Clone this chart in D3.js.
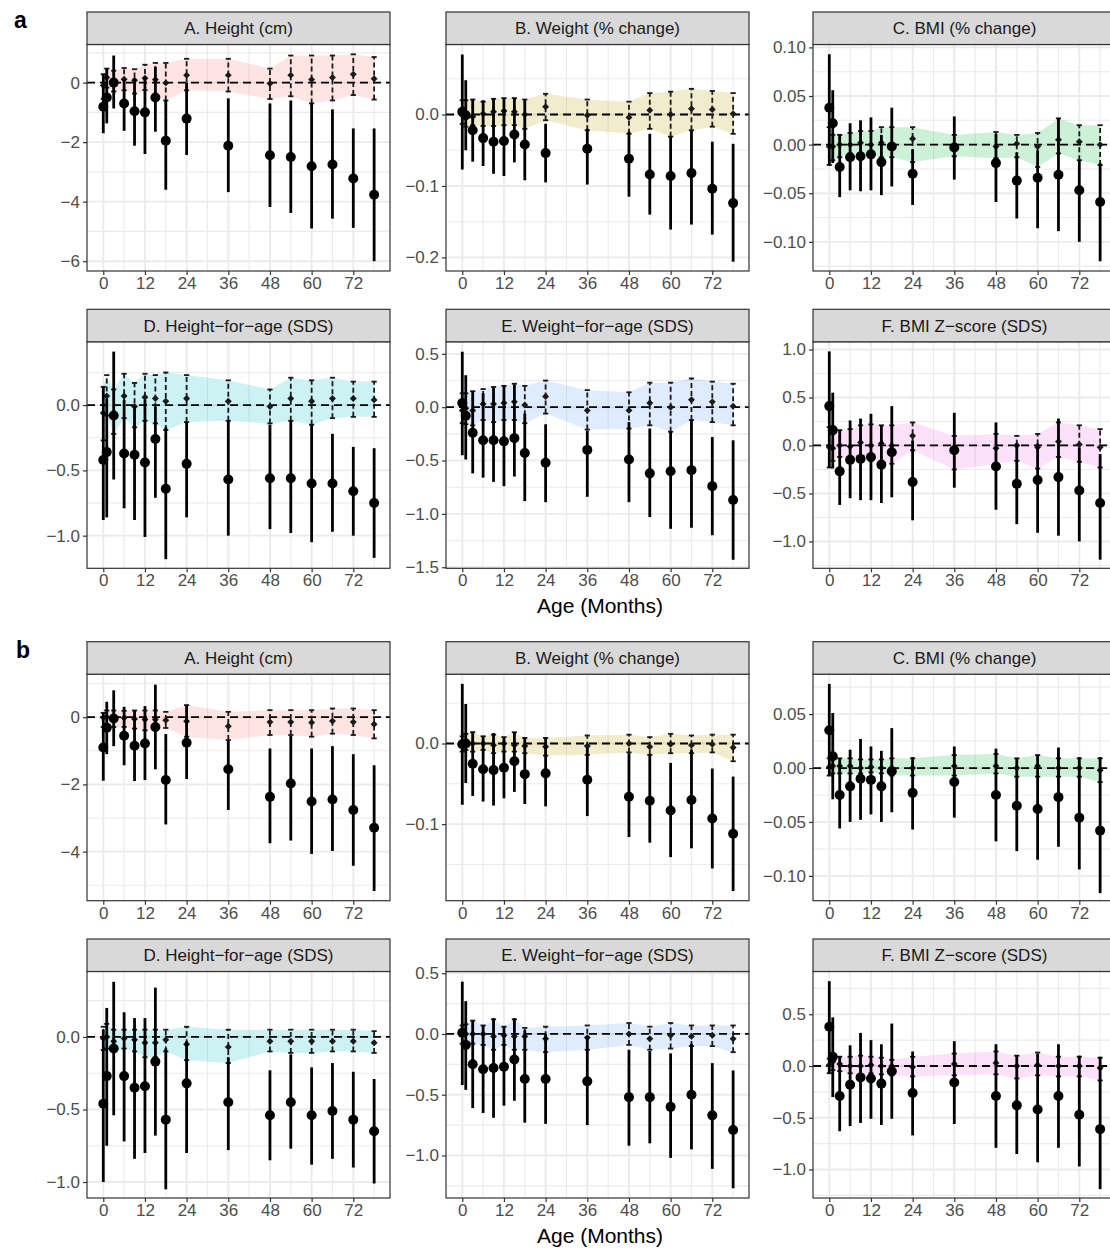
<!DOCTYPE html>
<html>
<head>
<meta charset="utf-8">
<script src="https://cdnjs.cloudflare.com/ajax/libs/d3/7.8.5/d3.min.js"></script>
<style>
  body { margin: 0; background: #fff; }
  svg { font-family: "Liberation Sans", Arial, sans-serif; }
</style>
</head>
<body>
<svg id="chart" width="1110" height="1251"></svg>
<script>
// Time points (months)
const months = [0, 1, 3, 6, 9, 12, 15, 18, 24, 36, 48, 54, 60, 66, 72, 78];

const panelTitles = ["A. Height (cm)", "B. Weight (% change)", "C. BMI (% change)",
    "D. Height\u2212for\u2212age (SDS)", "E. Weight\u2212for\u2212age (SDS)", "F. BMI Z\u2212score (SDS)"];
const ribbonColors = ["#F8766D", "#B79F00", "#00BA38", "#00BFC4", "#619CFF", "#F564E3"];
const tickFormats = ["d", ".1f", ".2f", ".1f", ".1f", ".1f"];
const xTicks = [0, 12, 24, 36, 48, 60, 72];
const xDomain = [-4.69, 82.57];

// each row: [mean, lower, upper]
// ---- group a ----
const aHeightObs = [[-0.81,-1.7,0.3],[-0.5,-1.37,0.47],[0,-0.87,0.91],[-0.7,-1.62,0.1],[-0.96,-2.12,0.12],[-1.0,-2.4,0.2],[-0.5,-1.65,0.52],[-1.95,-3.6,-0.6],[-1.21,-2.43,0.0],[-2.12,-3.68,-0.53],[-2.44,-4.18,-0.7],[-2.5,-4.38,-0.6],[-2.81,-4.9,-0.7],[-2.75,-4.57,-0.9],[-3.22,-4.88,-1.54],[-3.77,-6.0,-1.54]];
const aHeightRef = [[-0.1,-0.55,0.28],[0.17,-0.17,0.47],[0.05,-0.3,0.4],[0.11,-0.26,0.49],[0.08,-0.37,0.45],[0.15,-0.25,0.6],[0.1,-0.42,0.66],[-0.01,-0.6,0.66],[0.25,-0.26,0.8],[0.25,-0.3,0.8],[-0.03,-0.55,0.47],[0.25,-0.46,0.91],[0.1,-0.7,0.91],[0.17,-0.6,0.91],[0.28,-0.42,0.95],[0.13,-0.57,0.86]];
const aWeightObs = [[0.004,-0.077,0.084],[-0.001,-0.05,0.048],[-0.022,-0.066,0.021],[-0.033,-0.072,0.02],[-0.038,-0.083,0.022],[-0.037,-0.086,0.023],[-0.028,-0.067,0.023],[-0.042,-0.092,0.02],[-0.054,-0.095,-0.013],[-0.048,-0.098,-0.02],[-0.062,-0.115,-0.024],[-0.084,-0.14,-0.027],[-0.086,-0.161,-0.031],[-0.082,-0.154,-0.022],[-0.104,-0.168,-0.038],[-0.124,-0.206,-0.041]];
const aWeightRef = [[-0.001,-0.013,0.02],[-0.001,-0.017,0.02],[-0.003,-0.015,0.021],[0.001,-0.016,0.018],[0.004,-0.016,0.022],[0.005,-0.015,0.023],[0.004,-0.015,0.023],[0.0,-0.02,0.021],[0.011,-0.008,0.029],[-0.001,-0.022,0.021],[-0.004,-0.027,0.018],[0.006,-0.02,0.03],[0.0,-0.031,0.032],[0.008,-0.022,0.036],[0.007,-0.017,0.033],[0.001,-0.027,0.03]];
const aBmiObs = [[0.038,-0.021,0.093],[0.022,-0.019,0.056],[-0.023,-0.054,0.011],[-0.013,-0.047,0.022],[-0.012,-0.048,0.025],[-0.010,-0.047,0.028],[-0.018,-0.052,0.01],[-0.002,-0.043,0.038],[-0.03,-0.062,-0.005],[-0.003,-0.036,0.029],[-0.019,-0.059,0.011],[-0.037,-0.076,-0.008],[-0.034,-0.086,-0.006],[-0.031,-0.089,0.027],[-0.047,-0.1,-0.016],[-0.059,-0.12,-0.019]];
const aBmiRef = [[-0.002,-0.021,0.018],[-0.002,-0.016,0.01],[0.0,-0.013,0.01],[0.0,-0.009,0.012],[0.002,-0.01,0.014],[0.0,-0.011,0.014],[0.002,-0.013,0.018],[0.0,-0.013,0.018],[0.006,-0.018,0.018],[0.0,-0.012,0.01],[-0.002,-0.014,0.013],[0.001,-0.013,0.01],[-0.002,-0.023,0.012],[0.005,-0.009,0.027],[0.003,-0.016,0.02],[0.0,-0.021,0.02]];
const aHfaObs = [[-0.42,-0.88,0.14],[-0.36,-0.86,0.05],[-0.08,-0.57,0.41],[-0.37,-0.79,0.04],[-0.38,-0.88,-0.01],[-0.44,-1.01,0.04],[-0.26,-0.71,-0.01],[-0.64,-1.18,-0.17],[-0.45,-0.86,-0.13],[-0.57,-1.0,-0.12],[-0.56,-0.95,-0.15],[-0.56,-0.98,-0.12],[-0.6,-1.05,-0.15],[-0.6,-0.97,-0.22],[-0.66,-1.0,-0.32],[-0.75,-1.17,-0.33]];
const aHfaRef = [[-0.06,-0.27,0.14],[0.07,-0.08,0.23],[-0.08,-0.22,0.12],[0.07,-0.1,0.24],[-0.01,-0.17,0.17],[0.06,-0.12,0.24],[0.05,-0.14,0.23],[0.03,-0.19,0.25],[0.05,-0.13,0.23],[0.03,-0.12,0.19],[-0.01,-0.14,0.12],[0.05,-0.12,0.21],[0.03,-0.15,0.19],[0.05,-0.1,0.21],[0.05,-0.09,0.18],[0.04,-0.09,0.18]];
const aWfaObs = [[0.04,-0.45,0.52],[-0.08,-0.49,0.3],[-0.24,-0.62,0.15],[-0.31,-0.66,0.13],[-0.31,-0.7,0.18],[-0.32,-0.74,0.2],[-0.29,-0.65,0.21],[-0.43,-0.88,-0.06],[-0.52,-0.89,-0.16],[-0.4,-0.84,-0.22],[-0.49,-0.89,-0.14],[-0.62,-1.03,-0.2],[-0.6,-1.14,-0.23],[-0.59,-1.13,-0.12],[-0.74,-1.2,-0.28],[-0.87,-1.43,-0.31]];
const aWfaRef = [[-0.03,-0.15,0.13],[-0.01,-0.16,0.13],[-0.03,-0.17,0.15],[0.03,-0.12,0.17],[0.03,-0.14,0.19],[0.04,-0.12,0.2],[0.05,-0.12,0.22],[0.02,-0.15,0.2],[0.1,-0.06,0.25],[-0.03,-0.21,0.16],[-0.03,-0.2,0.14],[0.04,-0.17,0.23],[0.0,-0.23,0.23],[0.07,-0.12,0.27],[0.05,-0.14,0.24],[0.01,-0.17,0.22]];
const aBmizObs = [[0.41,-0.23,0.98],[0.16,-0.24,0.55],[-0.27,-0.62,0.16],[-0.15,-0.55,0.26],[-0.14,-0.57,0.28],[-0.12,-0.57,0.33],[-0.2,-0.6,0.21],[-0.07,-0.54,0.41],[-0.38,-0.78,0.05],[-0.05,-0.44,0.34],[-0.22,-0.67,0.24],[-0.4,-0.82,0.02],[-0.36,-0.91,0.02],[-0.33,-0.94,0.28],[-0.47,-1.0,-0.02],[-0.6,-1.19,-0.09]];
const aBmizRef = [[-0.02,-0.23,0.19],[-0.03,-0.16,0.12],[0.0,-0.12,0.16],[-0.01,-0.12,0.17],[0.03,-0.12,0.21],[0.0,-0.16,0.22],[0.02,-0.16,0.21],[0.0,-0.19,0.21],[0.1,-0.05,0.24],[-0.03,-0.25,0.1],[-0.03,-0.19,0.12],[0.0,-0.16,0.1],[-0.02,-0.24,0.12],[0.04,-0.12,0.24],[0.01,-0.17,0.21],[-0.02,-0.23,0.17]];

// ---- group b ----
const bHeightObs = [[-0.9,-1.89,0.13],[-0.31,-1.1,0.46],[-0.04,-0.86,0.8],[-0.55,-1.43,0.31],[-0.85,-1.9,0.2],[-0.78,-1.87,0.33],[-0.29,-1.55,0.97],[-1.87,-3.19,-0.5],[-0.76,-1.84,0.36],[-1.55,-2.76,-0.7],[-2.37,-3.75,-0.93],[-1.97,-3.67,-0.56],[-2.51,-4.07,-0.93],[-2.45,-3.98,-0.86],[-2.76,-4.42,-1.1],[-3.29,-5.17,-1.43]];
const bHeightRef = [[-0.01,-0.29,0.13],[0.0,-0.24,0.2],[0.0,-0.29,0.2],[-0.02,-0.29,0.19],[-0.05,-0.34,0.2],[-0.07,-0.39,0.2],[-0.07,-0.39,0.2],[-0.09,-0.32,0.16],[-0.12,-0.58,0.36],[-0.27,-0.68,0.16],[-0.14,-0.53,0.21],[-0.14,-0.53,0.21],[-0.16,-0.58,0.21],[-0.11,-0.49,0.26],[-0.14,-0.53,0.26],[-0.21,-0.63,0.21]];
const bWeightObs = [[-0.001,-0.076,0.074],[0.0,-0.049,0.049],[-0.025,-0.065,0.015],[-0.032,-0.072,0.009],[-0.033,-0.077,0.013],[-0.03,-0.068,0.007],[-0.022,-0.06,0.014],[-0.038,-0.075,0.007],[-0.037,-0.078,0.007],[-0.045,-0.09,-0.005],[-0.066,-0.116,-0.012],[-0.071,-0.123,-0.014],[-0.083,-0.141,-0.024],[-0.07,-0.13,-0.008],[-0.093,-0.155,-0.031],[-0.112,-0.183,-0.041]];
const bWeightRef = [[-0.001,-0.01,0.009],[0.0,-0.008,0.012],[0.0,-0.01,0.014],[0.0,-0.008,0.009],[-0.002,-0.012,0.011],[0.0,-0.01,0.008],[-0.002,-0.01,0.014],[-0.003,-0.012,0.007],[-0.004,-0.015,0.007],[-0.003,-0.014,0.01],[0.0,-0.011,0.011],[-0.004,-0.014,0.008],[-0.001,-0.012,0.012],[-0.002,-0.012,0.01],[-0.001,-0.011,0.011],[-0.005,-0.022,0.011]];
const bBmiObs = [[0.035,-0.007,0.078],[0.011,-0.029,0.051],[-0.025,-0.056,0.009],[-0.017,-0.05,0.017],[-0.01,-0.048,0.027],[-0.011,-0.043,0.02],[-0.017,-0.05,0.016],[-0.003,-0.041,0.037],[-0.023,-0.057,0.01],[-0.013,-0.046,0.02],[-0.025,-0.068,0.018],[-0.035,-0.077,0.009],[-0.038,-0.085,0.012],[-0.027,-0.073,0.019],[-0.046,-0.094,0.01],[-0.058,-0.116,0.01]];
const bBmiRef = [[0.001,-0.007,0.009],[0.002,-0.005,0.01],[0.002,-0.005,0.009],[0.002,-0.005,0.009],[0.0,-0.005,0.008],[0.001,-0.004,0.008],[0.0,-0.005,0.008],[0.0,-0.007,0.009],[0.0,-0.007,0.009],[0.002,-0.007,0.012],[0.002,-0.005,0.013],[0.0,-0.008,0.009],[0.002,-0.008,0.012],[0.0,-0.008,0.009],[0.0,-0.008,0.009],[-0.002,-0.013,0.009]];
const bHfaObs = [[-0.46,-1.0,0.05],[-0.27,-0.75,0.2],[-0.08,-0.54,0.38],[-0.27,-0.72,0.17],[-0.35,-0.84,0.13],[-0.34,-0.8,0.13],[-0.17,-0.68,0.34],[-0.57,-1.05,-0.08],[-0.32,-0.8,-0.03],[-0.45,-0.78,-0.14],[-0.54,-0.85,-0.23],[-0.45,-0.77,-0.12],[-0.54,-0.88,-0.21],[-0.51,-0.84,-0.18],[-0.57,-0.9,-0.24],[-0.65,-1.01,-0.29]];
const bHfaRef = [[-0.01,-0.09,0.07],[0.0,-0.08,0.09],[-0.03,-0.1,0.05],[-0.01,-0.08,0.05],[-0.02,-0.1,0.05],[-0.04,-0.14,0.05],[-0.04,-0.14,0.05],[-0.02,-0.1,0.05],[-0.05,-0.16,0.07],[-0.07,-0.18,0.05],[-0.03,-0.1,0.05],[-0.03,-0.11,0.05],[-0.03,-0.11,0.05],[-0.03,-0.1,0.05],[-0.03,-0.1,0.05],[-0.04,-0.11,0.04]];
const bWfaObs = [[0.01,-0.42,0.43],[-0.09,-0.46,0.27],[-0.25,-0.61,0.11],[-0.29,-0.65,0.07],[-0.28,-0.69,0.13],[-0.27,-0.59,0.06],[-0.21,-0.55,0.13],[-0.37,-0.73,0.03],[-0.37,-0.74,0.0],[-0.39,-0.75,-0.02],[-0.52,-0.92,-0.13],[-0.52,-0.9,-0.14],[-0.6,-1.02,-0.16],[-0.5,-0.95,-0.08],[-0.67,-1.11,-0.24],[-0.79,-1.27,-0.3]];
const bWfaRef = [[0.0,-0.08,0.07],[0.0,-0.08,0.08],[0.0,-0.08,0.11],[0.0,-0.09,0.07],[-0.02,-0.13,0.12],[-0.01,-0.09,0.06],[-0.02,-0.13,0.12],[-0.02,-0.13,0.05],[-0.04,-0.15,0.06],[-0.03,-0.13,0.07],[0.0,-0.09,0.09],[-0.04,-0.13,0.06],[-0.01,-0.12,0.09],[-0.02,-0.1,0.07],[-0.01,-0.1,0.07],[-0.04,-0.15,0.07]];
const bBmizObs = [[0.38,-0.07,0.82],[0.09,-0.3,0.47],[-0.29,-0.63,0.09],[-0.18,-0.58,0.2],[-0.11,-0.55,0.32],[-0.12,-0.51,0.25],[-0.17,-0.57,0.21],[-0.05,-0.51,0.41],[-0.26,-0.67,0.14],[-0.16,-0.56,0.24],[-0.29,-0.79,0.21],[-0.38,-0.85,0.1],[-0.42,-0.93,0.12],[-0.29,-0.79,0.21],[-0.47,-0.97,0.1],[-0.61,-1.19,0.09]];
const bBmizRef = [[0.01,-0.07,0.07],[0.04,-0.04,0.09],[0.02,-0.05,0.09],[0.0,-0.07,0.09],[0.0,-0.09,0.1],[0.01,-0.07,0.09],[0.0,-0.08,0.08],[0.0,-0.09,0.06],[-0.01,-0.1,0.09],[0.02,-0.09,0.12],[0.03,-0.08,0.14],[0.0,-0.12,0.1],[0.01,-0.09,0.13],[0.0,-0.1,0.09],[0.0,-0.1,0.09],[-0.02,-0.14,0.08]];

// y ranges and ticks per panel (free scales)
const aDomains = [[-6.33, 1.28], [-0.219, 0.098], [-0.130, 0.103], [-1.25, 0.485], [-1.51, 0.613], [-1.28, 1.08]];
const aTicks = [[0, -2, -4, -6], [0, -0.1, -0.2], [0.1, 0.05, 0, -0.05, -0.1], [0, -0.5, -1], [0.5, 0, -0.5, -1, -1.5], [1, 0.5, 0, -0.5, -1]];
const bDomains = [[-5.46, 1.28], [-0.195, 0.086], [-0.123, 0.087], [-1.11, 0.451], [-1.35, 0.514], [-1.275, 0.913]];
const bTicks = [[0, -2, -4], [0, -0.1], [0.05, 0, -0.05, -0.1], [0, -0.5, -1], [0.5, 0, -0.5, -1], [0.5, 0, -0.5, -1]];

const groups = [
    { label: "a", top: 12, obs: [aHeightObs, aWeightObs, aBmiObs, aHfaObs, aWfaObs, aBmizObs],
      ref: [aHeightRef, aWeightRef, aBmiRef, aHfaRef, aWfaRef, aBmizRef], domains: aDomains, ticks: aTicks },
    { label: "b", top: 641.7, obs: [bHeightObs, bWeightObs, bBmiObs, bHfaObs, bWfaObs, bBmizObs],
      ref: [bHeightRef, bWeightRef, bBmiRef, bHfaRef, bWfaRef, bBmizRef], domains: bDomains, ticks: bTicks }
];

// layout
const colLeft = [87, 446, 813];
const panelW = 303;
const stripH = 32.5;
const panelH = 226.5;
const rowGap = 297.3;   // strip top of row 2 relative to row 1

const svg = d3.select("#chart");

const x = d3.scaleLinear().domain(xDomain).range([0, panelW]);
const xMinor = d3.range(6, 84, 12);

groups.forEach(group => {
    svg.append("text")
        .attr("x", group.label === "a" ? 14 : 16)
        .attr("y", group.top + 16)
        .attr("font-size", 23)
        .attr("font-weight", "bold")
        .text(group.label);

    for (let p = 0; p < 6; p++) {
        const col = p % 3, row = Math.floor(p / 3);
        const stripTop = group.top + row * rowGap;
        const left = colLeft[col];
        const top = stripTop + stripH;

        const g = svg.append("g").attr("transform", `translate(${left},${top})`);

        const y = d3.scaleLinear().domain(group.domains[p]).range([panelH, 0]);
        const ticks = group.ticks[p];
        const step = Math.abs(ticks[0] - ticks[1]);
        const [y0, y1] = group.domains[p];
        const yMinor = d3.range(Math.floor(y0 / step) * step + step / 2, y1, step)
            .filter(v => v > y0 && v < y1);

        // background grid
        g.selectAll(".ymin").data(yMinor).enter().append("line")
            .attr("x1", 0).attr("x2", panelW)
            .attr("y1", d => y(d)).attr("y2", d => y(d))
            .attr("stroke", "#EBEBEB").attr("stroke-width", 1.1);
        g.selectAll(".xmin").data(xMinor).enter().append("line")
            .attr("y1", 0).attr("y2", panelH)
            .attr("x1", d => x(d)).attr("x2", d => x(d))
            .attr("stroke", "#EBEBEB").attr("stroke-width", 1.1);
        g.selectAll(".ymaj").data(ticks).enter().append("line")
            .attr("x1", 0).attr("x2", panelW)
            .attr("y1", d => y(d)).attr("y2", d => y(d))
            .attr("stroke", "#EBEBEB").attr("stroke-width", 1.9);
        g.selectAll(".xmaj").data(xTicks).enter().append("line")
            .attr("y1", 0).attr("y2", panelH)
            .attr("x1", d => x(d)).attr("x2", d => x(d))
            .attr("stroke", "#EBEBEB").attr("stroke-width", 1.9);

        const ref = group.ref[p].map((d, i) => ({ t: months[i], m: d[0], lo: d[1], hi: d[2] }));
        const obs = group.obs[p].map((d, i) => ({ t: months[i], m: d[0], lo: d[1], hi: d[2] }));

        // ribbon from reference CI
        g.append("path")
            .datum(ref)
            .attr("d", d3.area().x(d => x(d.t)).y0(d => y(d.lo)).y1(d => y(d.hi)))
            .attr("fill", ribbonColors[p])
            .attr("fill-opacity", 0.2);

        // zero line
        g.append("line")
            .attr("x1", 0).attr("x2", panelW)
            .attr("y1", y(0)).attr("y2", y(0))
            .attr("stroke", "#000").attr("stroke-width", 1.8)
            .attr("stroke-dasharray", "8,5");

        // reference error bars (dashed) with caps
        ref.forEach(d => {
            g.append("line")
                .attr("x1", x(d.t)).attr("x2", x(d.t))
                .attr("y1", y(d.lo)).attr("y2", y(d.hi))
                .attr("stroke", "#1a1a1a").attr("stroke-width", 1.8)
                .attr("stroke-dasharray", "5,3");
            [d.lo, d.hi].forEach(v => {
                g.append("line")
                    .attr("x1", x(d.t) - 2.6).attr("x2", x(d.t) + 2.6)
                    .attr("y1", y(v)).attr("y2", y(v))
                    .attr("stroke", "#1a1a1a").attr("stroke-width", 1.8);
            });
        });
        g.selectAll(".ref").data(ref).enter().append("path")
            .attr("d", d3.symbol().type(d3.symbolSquare).size(24))
            .attr("transform", d => `translate(${x(d.t)},${y(d.m)}) rotate(45)`)
            .attr("fill", "#1a1a1a");

        // observed error bars + points
        g.selectAll(".obsbar").data(obs).enter().append("line")
            .attr("x1", d => x(d.t)).attr("x2", d => x(d.t))
            .attr("y1", d => y(d.lo)).attr("y2", d => y(d.hi))
            .attr("stroke", "#000").attr("stroke-width", 2.8);
        g.selectAll(".obs").data(obs).enter().append("circle")
            .attr("cx", d => x(d.t)).attr("cy", d => y(d.m))
            .attr("r", 5).attr("fill", "#000");

        // panel border
        g.append("rect")
            .attr("width", panelW).attr("height", panelH)
            .attr("fill", "none").attr("stroke", "#333").attr("stroke-width", 1.2);

        // strip
        svg.append("rect")
            .attr("x", left).attr("y", stripTop)
            .attr("width", panelW).attr("height", stripH)
            .attr("fill", "#D9D9D9").attr("stroke", "#333").attr("stroke-width", 1.2);
        svg.append("text")
            .attr("x", left + panelW / 2).attr("y", stripTop + stripH / 2 + 6)
            .attr("text-anchor", "middle")
            .attr("font-size", 17).attr("fill", "#1A1A1A")
            .text(panelTitles[p]);

        // axes
        const yAxis = g.append("g")
            .call(d3.axisLeft(y).tickValues(ticks).tickFormat(d3.format(tickFormats[p]))
                .tickSize(4).tickPadding(3));
        const xAxis = g.append("g")
            .attr("transform", `translate(0,${panelH})`)
            .call(d3.axisBottom(x).tickValues(xTicks).tickFormat(d3.format("d"))
                .tickSize(4).tickPadding(2));
        [yAxis, xAxis].forEach(ax => {
            ax.select(".domain").remove();
            ax.selectAll(".tick line").attr("stroke", "#333").attr("stroke-width", 1.2);
            ax.selectAll(".tick text")
                .attr("font-size", 17).attr("fill", "#4D4D4D")
                .attr("font-family", "Liberation Sans, Arial, sans-serif");
        });
    }

    // x axis title
    svg.append("text")
        .attr("x", 600)
        .attr("y", group.top + rowGap + stripH + panelH + 45)
        .attr("text-anchor", "middle")
        .attr("font-size", 21)
        .text("Age (Months)");
});
</script>
</body>
</html>
